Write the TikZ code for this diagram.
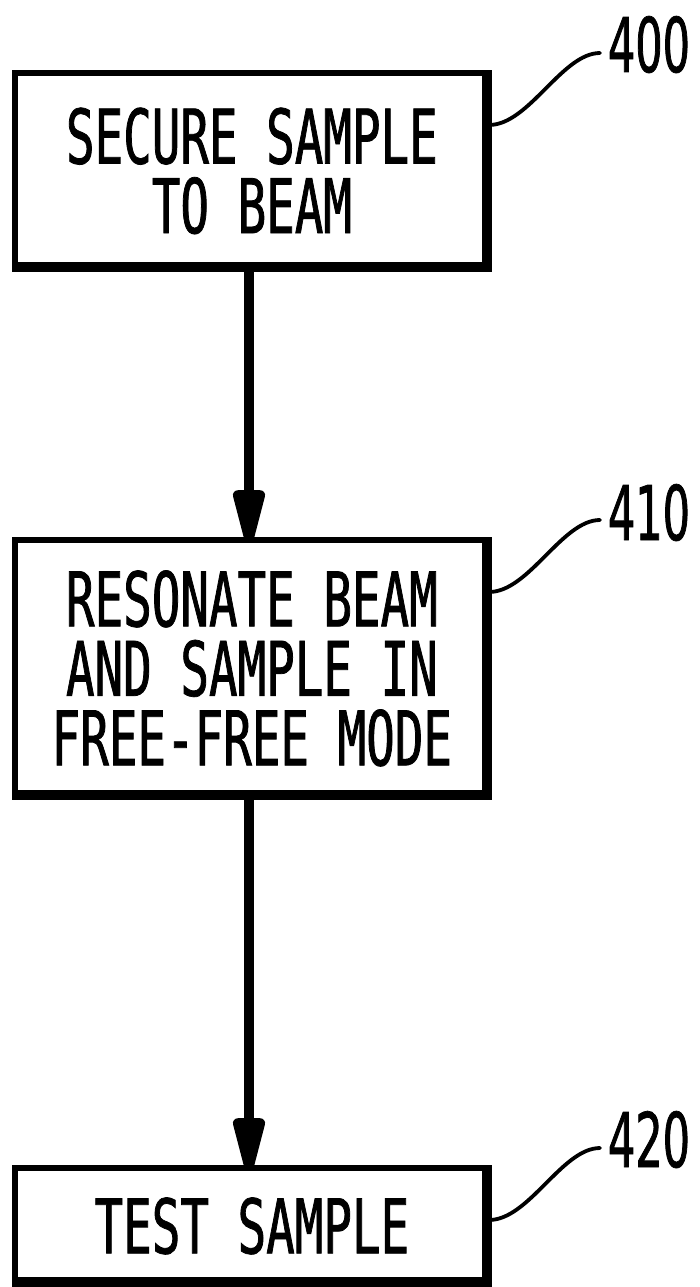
\documentclass[tikz,border=0pt]{standalone}
\usepackage{fontspec}
\usetikzlibrary{arrows.meta}
\newfontfamily\drawfont[FakeStretch=0.63,FakeBold=1]{DejaVu Sans Mono}
\newfontfamily\numfont[FakeStretch=0.57,FakeBold=1]{DejaVu Sans}
\tikzset{
  procbox/.style={draw, line width=5.5pt, inner sep=0pt, outer sep=0pt,
    minimum width=474.25pt, align=center,
    font=\drawfont\fontsize{75.4}{69.5}\selectfont},
  shadowline/.style={line width=10pt, line join=round},
  flow/.style={line width=10pt, -{Triangle[length=70pt,width=32pt,round]}},
  leader/.style={line width=3.8pt, line cap=round},
  reflabel/.style={inner sep=0pt, outer sep=0pt, anchor=base west,
    font=\numfont\fontsize{75.4}{69.5}\selectfont}
}
\begin{document}
\begin{tikzpicture}[x=1pt,y=-1pt]
\useasboundingbox (0,0) rectangle (699,1287);
% boxes
\node[procbox, minimum height=196.25pt] (b1) at (251.9,170.9) {SECURE SAMPLE\\TO BEAM};
\node[procbox, minimum height=257.25pt] (b2) at (251.9,668.4) {RESONATE BEAM\\AND SAMPLE IN\\FREE-FREE MODE};
\node[procbox, minimum height=116.25pt] (b3) at (251.9,1225.9) {TEST SAMPLE};
% heavy right and bottom edges
\foreach \b in {b1,b2,b3}{
  \draw[shadowline] ([xshift=-2.25pt,yshift=2.75pt]\b.north east)
    -- ([xshift=-2.25pt,yshift=2.25pt]\b.south east)
    -- ([yshift=2.25pt]\b.south west);
}
% arrows
\draw[flow] ([xshift=-2.9pt]b1.south) -- ([xshift=-2.9pt,yshift=-3pt]b2.north);
\draw[flow] ([xshift=-2.9pt]b2.south) -- ([xshift=-2.9pt,yshift=-3pt]b3.north);
% reference labels
\node[reflabel] (n400) at (608,72) {400};
\node[reflabel] (n410) at (608,540) {410};
\node[reflabel] (n420) at (608,1167) {420};
% leader start points
\coordinate (s400) at (489,125);
\coordinate (s410) at (489,592);
\coordinate (s420) at (489,1220);
\draw[leader] (s400) .. controls +(40,0) and +(-38,0) .. ([shift={(-8pt,19pt)}]n400.base west);
\draw[leader] (s410) .. controls +(40,0) and +(-38,0) .. ([shift={(-8pt,20pt)}]n410.base west);
\draw[leader] (s420) .. controls +(40,0) and +(-38,0) .. ([shift={(-8pt,19pt)}]n420.base west);
\end{tikzpicture}
\end{document}
